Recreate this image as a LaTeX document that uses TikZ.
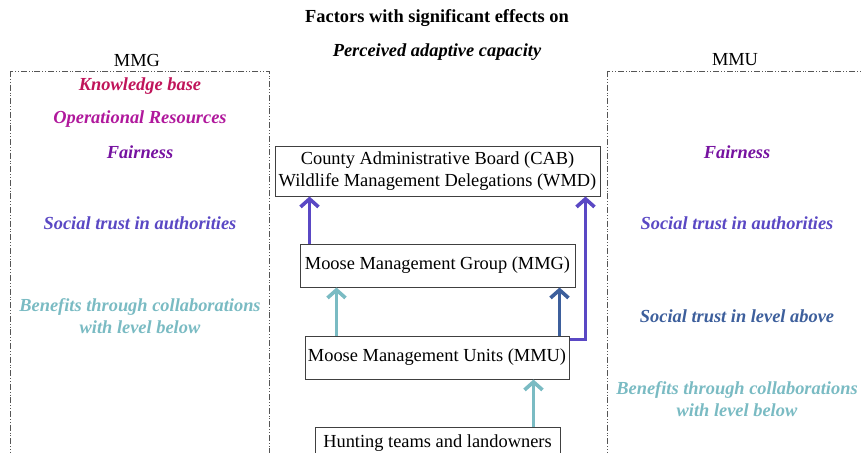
\documentclass[tikz,border=0pt]{standalone}
\usepackage{fontspec}
\setmainfont{Liberation Serif}
\usetikzlibrary{arrows.meta}

\definecolor{cKnow}{HTML}{C0145A}
\definecolor{cOper}{HTML}{B0189C}
\definecolor{cFair}{HTML}{7612A0}
\definecolor{cAuth}{HTML}{5A48C4}
\definecolor{cAbove}{HTML}{3D5F9C}
\definecolor{cBelow}{HTML}{7ABBC3}
\definecolor{cFrame}{HTML}{555555}

\tikzset{
  txt/.style={font=\fontsize{9.2}{11}\selectfont, inner sep=0pt, align=center},
  factor/.style={txt, font=\fontsize{9.2}{11}\selectfont\bfseries\itshape},
  level/.style={txt, draw=black!75, line width=0.5pt, fill=white},
  group/.style={draw=cFrame, line width=0.4pt,
    dash pattern=on 3pt off 1pt on 0.4pt off 1pt on 0.4pt off 1pt},
  link/.style={line width=1.8pt, -{Straight Barb[length=4pt,width=9pt]}}
}

\begin{document}
\begin{tikzpicture}[x=0.5pt,y=-0.5pt]
  \clip (0,0) rectangle (861,452);

  % heading
  \node[txt, font=\fontsize{9.2}{11}\selectfont\bfseries] (title) at (437,18) {Factors with significant effects on};
  \node[factor, text=black] (subtitle) at (437,52) {Perceived adaptive capacity};

  % group frames
  \draw[group] (10,71) rectangle (269,480);
  \draw[group] (607,71) rectangle (900,480);
  \node[txt] (mmglab) at (137,60) {MMG};
  \node[txt] (mmulab) at (735,60) {MMU};

  % factors for MMG
  \node[factor, text=cKnow] (k1) at (140,86) {Knowledge base};
  \node[factor, text=cOper] (k2) at (140,119) {Operational Resources};
  \node[factor, text=cFair] (k3) at (140,152) {Fairness};
  \node[factor, text=cAuth] (k4) at (140,223) {Social trust in authorities};
  \node[factor, text=cBelow] (k5) at (140,316) {Benefits through collaborations\\with level below};

  % factors for MMU
  \node[factor, text=cFair] (u1) at (737,152) {Fairness};
  \node[factor, text=cAuth] (u2) at (737,223) {Social trust in authorities};
  \node[factor, text=cAbove] (u3) at (737,316) {Social trust in level above};
  \node[factor, text=cBelow] (u4) at (737,399) {Benefits through collaborations\\with level below};

  % management levels
  \node[level, minimum width=162.5pt, minimum height=25pt] (cab) at (437.5,171)
    {County Administrative Board (CAB)\\Wildlife Management Delegations (WMD)};
  \node[level, minimum width=137.5pt, minimum height=21.5pt] (mmg) at (437.5,265.5)
    {Moose Management Group (MMG)};
  \node[level, minimum width=132pt, minimum height=21.5pt] (mmu) at (437,357.5)
    {Moose Management Units (MMU)};
  \node[level, minimum width=122.5pt, minimum height=16pt] (hunt) at (437.5,443)
    {Hunting teams and landowners};

  % links between levels
  \coordinate (a1) at ([xshift=5pt]mmg.north west);
  \draw[link, cAuth] (a1) -- (a1 |- cab.south);

  \coordinate (a2) at ([xshift=16pt]mmu.north west);
  \draw[link, cBelow] (a2) -- (a2 |- mmg.south);

  \coordinate (a3) at ([xshift=-5pt]mmu.north east);
  \draw[link, cAbove] (a3) -- (a3 |- mmg.south);

  \coordinate (a4) at ([yshift=-2pt]mmu.north east);
  \coordinate (a4t) at ([xshift=-7.5pt]cab.south east);
  \draw[link, cAuth] (a4) -| (a4t);

  \coordinate (a5) at ([xshift=-13.5pt]hunt.north east);
  \draw[link, cBelow] (a5) -- (a5 |- mmu.south);
\end{tikzpicture}
\end{document}
